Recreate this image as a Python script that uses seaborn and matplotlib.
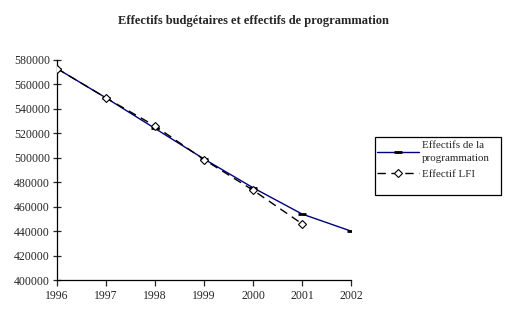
import matplotlib
matplotlib.use("Agg")
import matplotlib.pyplot as plt
from matplotlib.patches import Rectangle
import seaborn as sns
import pandas as pd

years_prog = [1996, 1997, 1998, 1999, 2000, 2001, 2002]
effectifs_prog = [573000, 549000, 524000, 499000, 475500, 454000, 440000]
years_lfi = [1996, 1997, 1998, 1999, 2000, 2001]
effectifs_lfi = [573000, 549000, 526000, 498500, 473500, 446000]
label_prog = "Effectifs de la\nprogrammation"
label_lfi = "Effectif LFI"
title = "Effectifs budgétaires et effectifs de programmation"

sns.set_style("white")
plt.rcParams['font.family'] = ['Liberation Serif', 'DejaVu Serif']

W, H = 507, 321
fig = plt.figure(figsize=(W / 100, H / 100), dpi=100)
ax = fig.add_axes([0.1124, 0.1277, 0.58, 0.6854])

df_prog = pd.DataFrame({"annee": years_prog, "val": effectifs_prog})
df_lfi = pd.DataFrame({"annee": years_lfi, "val": effectifs_lfi})

sns.lineplot(data=df_prog, x="annee", y="val", ax=ax, color="#000080", lw=1.0,
             marker="_", markersize=6, markeredgewidth=2.0, markeredgecolor="black",
             label=label_prog, zorder=2)
sns.lineplot(data=df_lfi, x="annee", y="val", ax=ax, color="black", lw=1.0,
             linestyle=(0, (6, 4)), marker="D", markersize=4.5, markerfacecolor="white",
             markeredgecolor="black", markeredgewidth=0.8, label=label_lfi, zorder=3)

ax.set_xlim(1996, 2002)
ax.set_ylim(400000, 580000)
ax.set_xticks(years_prog)
ax.set_xticklabels([str(y) for y in years_prog])
ax.set_yticks(range(400000, 580001, 20000))
ax.set_yticklabels([str(v) for v in range(400000, 580001, 20000)])
ax.set_xlabel("")
ax.set_ylabel("")
for s in ["top", "right"]:
    ax.spines[s].set_visible(False)
for s in ["left", "bottom"]:
    ax.spines[s].set_color("black")
    ax.spines[s].set_linewidth(0.9)
ax.tick_params(axis="y", direction="inout", length=6, width=0.9, labelsize=8.5, pad=2, left=True)
ax.tick_params(axis="x", direction="out", length=4, width=0.9, labelsize=8.5, pad=3, bottom=True)

fig.text(0.5, 0.935, title, ha="center", va="center", fontsize=9.0, fontweight="bold")

# legend box (frame drawn separately to match the taller original frame)
fig.add_artist(Rectangle((375 / W, 1 - 195 / H), (501 - 375) / W, (195 - 137) / H,
                         transform=fig.transFigure, fill=False, edgecolor="black", lw=0.9))
leg = ax.legend(loc="upper left", bbox_to_anchor=(375 / W, 1 - 139 / H), bbox_transform=fig.transFigure,
                borderaxespad=0, frameon=False, fontsize=7.9,
                borderpad=0.2, handlelength=3.8, labelspacing=0.55, handletextpad=0.25)
for t in leg.get_texts():
    t.set_linespacing(1.55)

fig.savefig("out.png", dpi=100, facecolor="white")
